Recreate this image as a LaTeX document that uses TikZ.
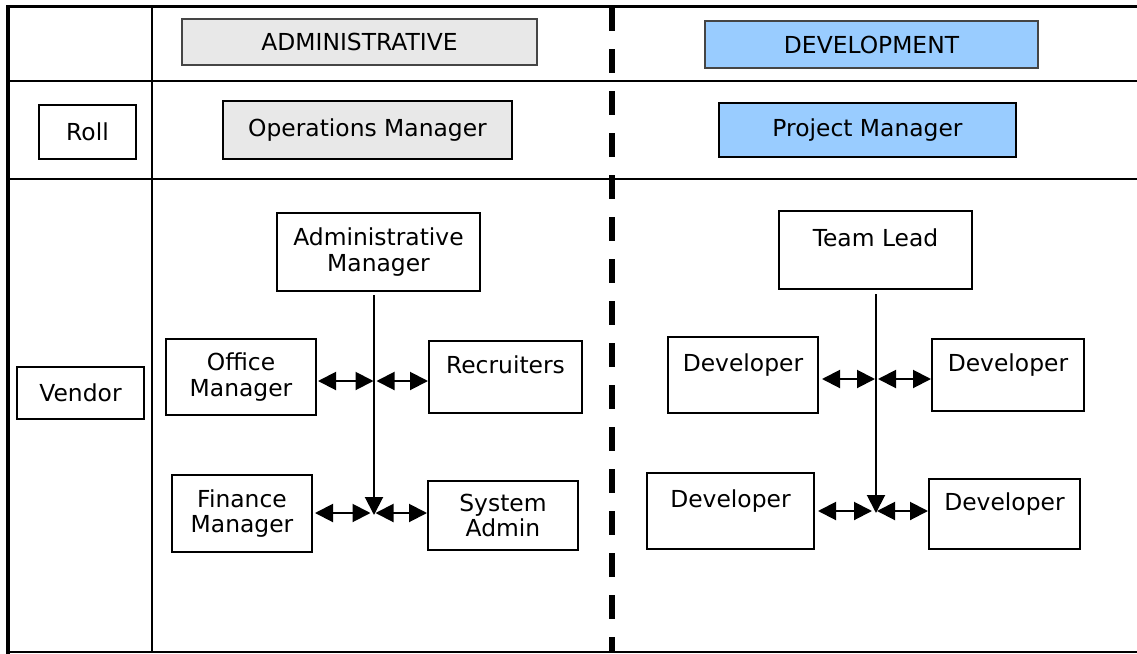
\documentclass[tikz,border=0pt]{standalone}
\usepackage{fontspec}
\setmainfont{DejaVu Sans}
\usetikzlibrary{arrows.meta}
\definecolor{boxgray}{HTML}{E8E8E8}
\definecolor{boxblue}{HTML}{99CCFF}
\definecolor{edgegray}{HTML}{454545}
\begin{document}
\begin{tikzpicture}[x=0.5pt,y=-0.5pt,
  box/.style={draw=black, line width=1pt, align=center, inner sep=0pt,
    font=\fontsize{11.7pt}{12.6pt}\selectfont},
  graybox/.style={box, fill=boxgray},
  bluebox/.style={box, fill=boxblue},
  rule/.style={line width=1pt, draw=black},
  link/.style={line width=1pt, {Triangle[length=9pt,width=9pt]}-{Triangle[length=9pt,width=9pt]}},
  down/.style={line width=1pt, -{Triangle[length=9pt,width=9pt]}}
]
\useasboundingbox (0,0) rectangle (1137,654);
% frame and grid
\draw[rule] (7,81) -- (1137,81);
\draw[rule] (7,179) -- (1137,179);
\draw[rule] (152,6) -- (152,652);
\draw[line width=1.2pt] (7,652) -- (1137,652);
\draw[line width=1.8pt] (6,6.5) -- (1137,6.5);
\draw[line width=2pt] (7.5,5.5) -- (7.5,654);
\draw[line width=3pt, dash pattern=on 12pt off 9pt] (612,7) -- (612,652);
% header boxes
\node[graybox, draw=edgegray, minimum width=177.5pt, minimum height=23pt] (adm) at (359.5,42) {ADMINISTRATIVE};
\node[bluebox, draw=edgegray, minimum width=166.5pt, minimum height=23.5pt] (dev) at (871.5,44.5) {DEVELOPMENT};
\node[graybox, minimum width=144.5pt, minimum height=29pt] (ops) at (367.5,130) {Operations Manager};
\node[bluebox, minimum width=148.5pt, minimum height=27pt] (pm) at (867.5,130) {Project Manager};
\node[box, minimum width=48.5pt, minimum height=27pt] (roll) at (87.5,132) {Roll};
\node[box, minimum width=63.5pt, minimum height=26pt] (vendor) at (80.5,393) {Vendor};
% administrative tree
\node[box, minimum width=101.5pt, minimum height=39pt] (am) at (378.5,252) {Administrative\\Manager};
\node[box, minimum width=75pt, minimum height=38pt] (om) at (241,377) {Office\\Manager};
\node[box, minimum width=70pt, minimum height=38.5pt] (fm) at (242,513.5) {Finance\\Manager};
\node[box, minimum width=76.5pt, minimum height=36pt] (rec) at (505.5,377) {Recruiters\\\mbox{}};
\node[box, minimum width=75pt, minimum height=34.5pt] (sa) at (503,515.5) {System\\Admin};
% development tree
\node[box, minimum width=96.5pt, minimum height=39pt] (tl) at (875.5,250) {Team Lead\\\mbox{}};
\node[box, minimum width=75pt, minimum height=38pt] (d1) at (743,375) {Developer\\\mbox{}};
\node[box, minimum width=76pt, minimum height=36pt] (d2) at (1008,375) {Developer\\\mbox{}};
\node[box, minimum width=83.5pt, minimum height=38pt] (d3) at (730.5,511) {Developer\\\mbox{}};
\node[box, minimum width=75.5pt, minimum height=35pt] (d4) at (1004.5,514) {Developer\\\mbox{}};
% junction points
\coordinate (aend) at (374,515);
\coordinate (a1l) at (373.5,381);
\coordinate (a1r) at (376.5,381);
\coordinate (a2l) at (370.5,513);
\coordinate (a2r) at (375.5,513);
\coordinate (dend) at (876,513);
\coordinate (b1l) at (875,379);
\coordinate (b1r) at (878,379);
\coordinate (b2l) at (872,511);
\coordinate (b2r) at (877,511);
% connectors
\draw[down] (am.south -| aend) ++(0,3) -- (aend);
\draw[link] (om.east |- a1l) ++(1,0) -- (a1l);
\draw[link] (a1r) -- (rec.west |- a1r);
\draw[link] (fm.east |- a2l) ++(2,0) -- (a2l);
\draw[link] (a2r) -- (sa.west |- a2r);
\draw[down] (tl.south -| dend) ++(0,4) -- (dend);
\draw[link] (d1.east |- b1l) ++(3,0) -- (b1l);
\draw[link] (b1r) -- (d2.west |- b1r);
\draw[link] (d3.east |- b2l) ++(3,0) -- (b2l);
\draw[link] (b2r) -- (d4.west |- b2r);
\end{tikzpicture}
\end{document}
